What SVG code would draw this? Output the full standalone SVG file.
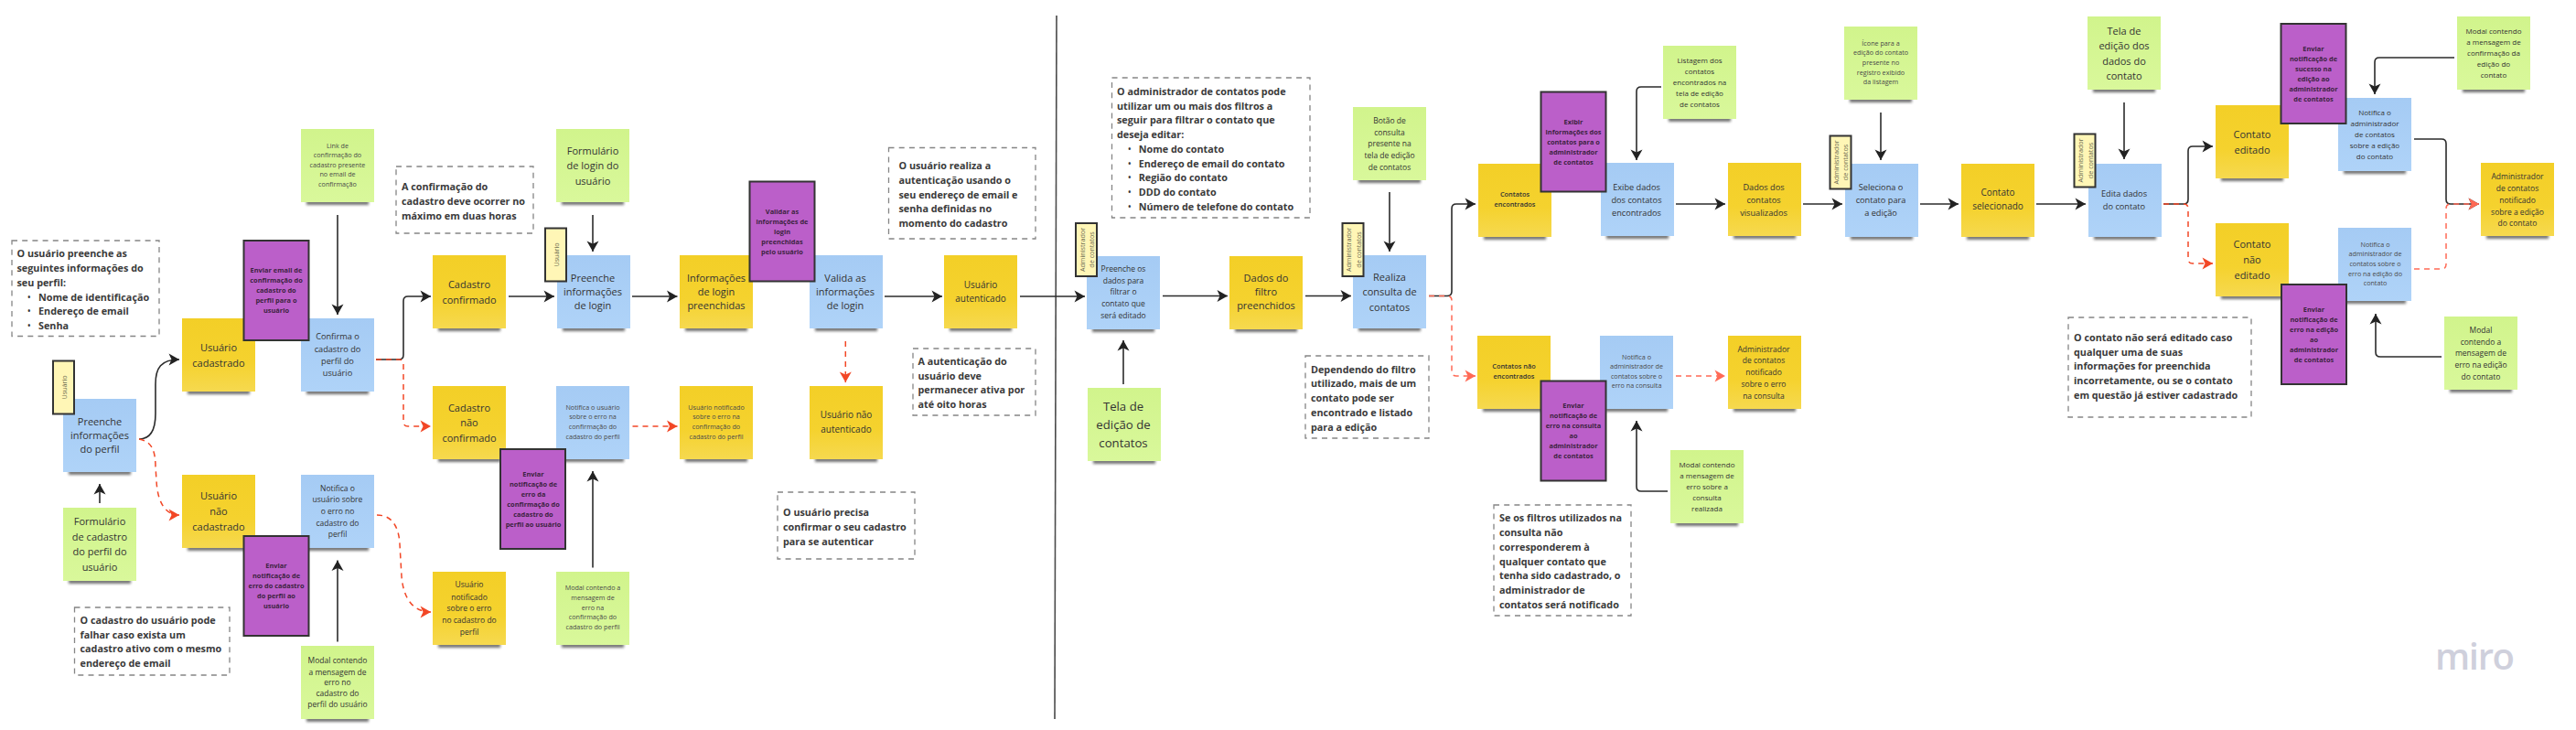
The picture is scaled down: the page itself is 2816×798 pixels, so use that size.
<svg xmlns="http://www.w3.org/2000/svg" width="2816" height="798" viewBox="0 0 2816 798">
<style>
text{font-family:"Open Sans","Noto Sans",sans-serif;dominant-baseline:central;fill:#333}
.c{text-anchor:middle}
.l{font-size:11px}.m10{font-size:10px}.m{font-size:9.2px}.s{font-size:8.5px}.sm{font-size:8px}.xs{font-size:7.2px;fill:#4a4a4a}.xl{font-size:13.2px}
.p{font-size:7.4px;font-weight:700;fill:#3b2340;text-anchor:middle}
.q{font-size:7.4px;font-weight:600;fill:#333;text-anchor:middle}
.n{font-size:10.8px;font-weight:700;fill:#3a3a3a}
.b{font-size:8px;font-weight:700}
.note{fill:none;stroke:#858585;stroke-width:1.3;stroke-dasharray:6 5.2}
.pur{fill:#bb5fc9;stroke:#333;stroke-width:2}
.lab{fill:#fff6b6;stroke:#333;stroke-width:2}
.lt{font-size:7.2px;fill:#6a6a50;text-anchor:middle}
.k{fill:none;stroke:#2b2b2b;stroke-width:1.6;marker-end:url(#ak)}
.r{fill:none;stroke:#f24726;stroke-width:1.5;stroke-dasharray:6 5;marker-end:url(#ar)}
.rs{fill:none;stroke:#ff6a55;stroke-width:1.5;stroke-dasharray:6 5;marker-end:url(#as)}
</style>
<defs>
<linearGradient id="gy" x1="0" y1="0" x2="0" y2="1"><stop offset="0" stop-color="#f3cf27"/><stop offset=".6" stop-color="#f5d22e"/><stop offset="1" stop-color="#f6d94f"/></linearGradient>
<linearGradient id="gb" x1="0" y1="0" x2="0" y2="1"><stop offset="0" stop-color="#a5cbf4"/><stop offset="1" stop-color="#afd3f8"/></linearGradient>
<linearGradient id="gg" x1="0" y1="0" x2="0" y2="1"><stop offset="0" stop-color="#d1f48c"/><stop offset="1" stop-color="#d9f89b"/></linearGradient>
<filter id="bl" x="-20%" y="-100%" width="140%" height="300%"><feGaussianBlur stdDeviation="1.6"/></filter>
<rect id="sh" x="6" y="78" width="68" height="5" fill="#444" opacity=".75" filter="url(#bl)"/>
<g id="sy"><use href="#sh"/><rect width="80" height="80" fill="url(#gy)"/></g>
<g id="sb"><use href="#sh"/><rect width="80" height="80" fill="url(#gb)"/></g>
<g id="sg"><use href="#sh"/><rect width="80" height="80" fill="url(#gg)"/></g>
<marker id="ak" markerUnits="userSpaceOnUse" viewBox="0 0 12 14" markerWidth="12" markerHeight="14" refX="12" refY="7" orient="auto"><path d="M0.5 0.5 L12 7 L0.5 13.5 L3.5 7Z" fill="#222"/></marker>
<marker id="ar" markerUnits="userSpaceOnUse" viewBox="0 0 12 14" markerWidth="12" markerHeight="14" refX="12" refY="7" orient="auto"><path d="M0.5 0.5 L12 7 L0.5 13.5 L3.5 7Z" fill="#f24726"/></marker>
<marker id="as" markerUnits="userSpaceOnUse" viewBox="0 0 12 14" markerWidth="12" markerHeight="14" refX="12" refY="7" orient="auto"><path d="M0.5 0.5 L12 7 L0.5 13.5 L3.5 7Z" fill="#ff6a55"/></marker>
</defs>
<rect width="2816" height="798" fill="#fff"/>

<g id="stickies">
<g id="preenche-perfil"><use href="#sb" x="69" y="436"/><text class="c l"><tspan x="109" y="460">Preenche</tspan><tspan x="109" y="475">informações</tspan><tspan x="109" y="490">do perfil</tspan></text></g>
<g id="form-cadastro"><use href="#sg" x="69" y="555"/><text class="c l"><tspan x="109" y="568.5">Formulário</tspan><tspan x="109" y="586">de cadastro</tspan><tspan x="109" y="602">do perfil do</tspan><tspan x="109" y="619">usuário</tspan></text></g>
<g id="usuario-cadastrado"><use href="#sy" x="199" y="348"/><text class="c l"><tspan x="239" y="379">Usuário</tspan><tspan x="239" y="396">cadastrado</tspan></text></g>
<g id="usuario-nao-cadastrado"><use href="#sy" x="199" y="519"/><text class="c l"><tspan x="239" y="541">Usuário</tspan><tspan x="239" y="558">não</tspan><tspan x="239" y="575">cadastrado</tspan></text></g>
<g id="confirma-cadastro"><use href="#sb" x="329" y="348"/><text class="c m"><tspan x="369" y="367">Confirma o</tspan><tspan x="369" y="381">cadastro do</tspan><tspan x="369" y="394">perfil do</tspan><tspan x="369" y="407">usuário</tspan></text></g>
<g id="notifica-cadastro"><use href="#sb" x="329" y="519"/><text class="c s"><tspan x="369" y="532.5">Notifica o</tspan><tspan x="369" y="545">usuário sobre</tspan><tspan x="369" y="558">o erro no</tspan><tspan x="369" y="571">cadastro do</tspan><tspan x="369" y="583">perfil</tspan></text></g>
<g id="modal-cadastro"><use href="#sg" x="329" y="706"/><text class="c s"><tspan x="369" y="721">Modal contendo</tspan><tspan x="369" y="733.5">a mensagem de</tspan><tspan x="369" y="745">erro no</tspan><tspan x="369" y="757">cadastro do</tspan><tspan x="369" y="769">perfil do usuário</tspan></text></g>
<g id="link-confirmacao"><use href="#sg" x="329" y="141"/><text class="c xs"><tspan x="369" y="159">Link de</tspan><tspan x="369" y="169">confirmação do</tspan><tspan x="369" y="180">cadastro presente</tspan><tspan x="369" y="190">no email de</tspan><tspan x="369" y="201">confirmação</tspan></text></g>
<g id="cadastro-confirmado"><use href="#sy" x="473" y="279"/><text class="c l"><tspan x="513" y="310">Cadastro</tspan><tspan x="513" y="327">confirmado</tspan></text></g>
<g id="cadastro-nao-confirmado"><use href="#sy" x="473" y="422"/><text class="c l"><tspan x="513" y="445">Cadastro</tspan><tspan x="513" y="461">não</tspan><tspan x="513" y="478">confirmado</tspan></text></g>
<g id="usuario-notificado-cadastro"><use href="#sy" x="473" y="625"/><text class="c s"><tspan x="513" y="638">Usuário</tspan><tspan x="513" y="652">notificado</tspan><tspan x="513" y="664">sobre o erro</tspan><tspan x="513" y="677">no cadastro do</tspan><tspan x="513" y="690">perfil</tspan></text></g>
<g id="form-login"><use href="#sg" x="608" y="141"/><text class="c l"><tspan x="648" y="164">Formulário</tspan><tspan x="648" y="180">de login do</tspan><tspan x="648" y="197">usuário</tspan></text></g>
<g id="preenche-login"><use href="#sb" x="609" y="279"/><text class="c l"><tspan x="648" y="303">Preenche</tspan><tspan x="648" y="318">informações</tspan><tspan x="648" y="333">de login</tspan></text></g>
<g id="notifica-confirmacao"><use href="#sb" x="608" y="422"/><text class="c xs"><tspan x="648" y="445">Notifica o usuário</tspan><tspan x="648" y="455">sobre o erro na</tspan><tspan x="648" y="466">confirmação do</tspan><tspan x="648" y="477">cadastro do perfil</tspan></text></g>
<g id="modal-confirmacao"><use href="#sg" x="608" y="625"/><text class="c xs"><tspan x="648" y="642">Modal contendo a</tspan><tspan x="648" y="653">mensagem de</tspan><tspan x="648" y="664">erro na</tspan><tspan x="648" y="674">confirmação do</tspan><tspan x="648" y="685">cadastro do perfil</tspan></text></g>
<g id="info-login"><use href="#sy" x="743" y="279"/><text class="c l"><tspan x="783" y="303">Informações</tspan><tspan x="783" y="318">de login</tspan><tspan x="783" y="333">preenchidas</tspan></text></g>
<g id="usuario-notificado-confirmacao"><use href="#sy" x="743" y="422"/><text class="c xs"><tspan x="783" y="445">Usuário notificado</tspan><tspan x="783" y="455">sobre o erro na</tspan><tspan x="783" y="466">confirmação do</tspan><tspan x="783" y="477">cadastro do perfil</tspan></text></g>
<g id="valida-login"><use href="#sb" x="885" y="279"/><text class="c l"><tspan x="924" y="303">Valida as</tspan><tspan x="924" y="318">informações</tspan><tspan x="924" y="333">de login</tspan></text></g>
<g id="usuario-nao-autenticado"><use href="#sy" x="885" y="422"/><text class="c m10"><tspan x="925" y="453">Usuário não</tspan><tspan x="925" y="469">autenticado</tspan></text></g>
<g id="usuario-autenticado"><use href="#sy" x="1032" y="279"/><text class="c m10"><tspan x="1072" y="311">Usuário</tspan><tspan x="1072" y="326">autenticado</tspan></text></g>
<g id="preenche-filtro"><use href="#sb" x="1188" y="280"/><text class="c s"><tspan x="1228" y="293">Preenche os</tspan><tspan x="1228" y="306">dados para</tspan><tspan x="1228" y="318">filtrar o</tspan><tspan x="1228" y="331">contato que</tspan><tspan x="1228" y="344">será editado</tspan></text></g>
<g id="tela-edicao-contatos"><use href="#sg" x="1189" y="424"/><text class="c xl"><tspan x="1228" y="444">Tela de</tspan><tspan x="1228" y="464">edição de</tspan><tspan x="1228" y="484">contatos</tspan></text></g>
<g id="dados-filtro"><use href="#sy" x="1344" y="280"/><text class="c l"><tspan x="1384" y="303">Dados do</tspan><tspan x="1384" y="318">filtro</tspan><tspan x="1384" y="333">preenchidos</tspan></text></g>
<g id="botao-consulta"><use href="#sg" x="1479" y="117"/><text class="c s"><tspan x="1519" y="131">Botão de</tspan><tspan x="1519" y="144">consulta</tspan><tspan x="1519" y="156">presente na</tspan><tspan x="1519" y="169">tela de edição</tspan><tspan x="1519" y="182">de contatos</tspan></text></g>
<g id="realiza-consulta"><use href="#sb" x="1479" y="279"/><text class="c l"><tspan x="1519" y="302">Realiza</tspan><tspan x="1519" y="318">consulta de</tspan><tspan x="1519" y="335">contatos</tspan></text></g>
<g id="contatos-encontrados"><use href="#sy" x="1616" y="179"/><text class="q"><tspan x="1656" y="212">Contatos</tspan><tspan x="1656" y="223">encontrados</tspan></text></g>
<g id="contatos-nao-encontrados"><use href="#sy" x="1615" y="367"/><text class="q"><tspan x="1655" y="400">Contatos não</tspan><tspan x="1655" y="411">encontrados</tspan></text></g>
<g id="exibe-dados"><use href="#sb" x="1750" y="178"/><text class="c m"><tspan x="1789" y="204">Exibe dados</tspan><tspan x="1789" y="218">dos contatos</tspan><tspan x="1789" y="232">encontrados</tspan></text></g>
<g id="notifica-consulta"><use href="#sb" x="1749" y="367"/><text class="c xs"><tspan x="1789" y="390">Notifica o</tspan><tspan x="1789" y="400">administrador de</tspan><tspan x="1789" y="411">contatos sobre o</tspan><tspan x="1789" y="421">erro na consulta</tspan></text></g>
<g id="listagem"><use href="#sg" x="1818" y="50"/><text class="c sm"><tspan x="1858" y="65">Listagem dos</tspan><tspan x="1858" y="77">contatos</tspan><tspan x="1858" y="89">encontrados na</tspan><tspan x="1858" y="101">tela de edição</tspan><tspan x="1858" y="113">de contatos</tspan></text></g>
<g id="modal-consulta"><use href="#sg" x="1826" y="492"/><text class="c sm"><tspan x="1866" y="507">Modal contendo</tspan><tspan x="1866" y="519">a mensagem de</tspan><tspan x="1866" y="531">erro sobre a</tspan><tspan x="1866" y="543">consulta</tspan><tspan x="1866" y="555">realizada</tspan></text></g>
<g id="dados-visualizados"><use href="#sy" x="1889" y="178"/><text class="c m"><tspan x="1928" y="204">Dados dos</tspan><tspan x="1928" y="218">contatos</tspan><tspan x="1928" y="232">visualizados</tspan></text></g>
<g id="admin-notificado-consulta"><use href="#sy" x="1889" y="367"/><text class="c s"><tspan x="1928" y="381">Administrador</tspan><tspan x="1928" y="393">de contatos</tspan><tspan x="1928" y="406">notificado</tspan><tspan x="1928" y="419">sobre o erro</tspan><tspan x="1928" y="432">na consulta</tspan></text></g>
<g id="icone-edicao"><use href="#sg" x="2016" y="29"/><text class="c xs"><tspan x="2056" y="47">Ícone para a</tspan><tspan x="2056" y="57">edição do contato</tspan><tspan x="2056" y="68">presente no</tspan><tspan x="2056" y="79">registro exibido</tspan><tspan x="2056" y="89">da listagem</tspan></text></g>
<g id="seleciona"><use href="#sb" x="2017" y="179"/><text class="c m"><tspan x="2056" y="204">Seleciona o</tspan><tspan x="2056" y="218">contato para</tspan><tspan x="2056" y="232">a edição</tspan></text></g>
<g id="contato-selecionado"><use href="#sy" x="2144" y="179"/><text class="c m10"><tspan x="2184" y="210">Contato</tspan><tspan x="2184" y="225">selecionado</tspan></text></g>
<g id="tela-dados"><use href="#sg" x="2282" y="18"/><text class="c l"><tspan x="2322" y="33">Tela de</tspan><tspan x="2322" y="49">edição dos</tspan><tspan x="2322" y="66">dados do</tspan><tspan x="2322" y="82">contato</tspan></text></g>
<g id="edita-dados"><use href="#sb" x="2283" y="179"/><text class="c m"><tspan x="2322" y="211">Edita dados</tspan><tspan x="2322" y="225">do contato</tspan></text></g>
<g id="contato-editado"><use href="#sy" x="2422" y="115"/><text class="c l"><tspan x="2462" y="146">Contato</tspan><tspan x="2462" y="163">editado</tspan></text></g>
<g id="contato-nao-editado"><use href="#sy" x="2422" y="244"/><text class="c l"><tspan x="2462" y="266">Contato</tspan><tspan x="2462" y="283">não</tspan><tspan x="2462" y="300">editado</tspan></text></g>
<g id="notifica-sucesso"><use href="#sb" x="2556" y="107"/><text class="c sm"><tspan x="2596" y="122">Notifica o</tspan><tspan x="2596" y="134">administrador</tspan><tspan x="2596" y="146">de contatos</tspan><tspan x="2596" y="158">sobre a edição</tspan><tspan x="2596" y="170">do contato</tspan></text></g>
<g id="notifica-erro-edicao"><use href="#sb" x="2556" y="249"/><text class="c xs"><tspan x="2596.5" y="267">Notifica o</tspan><tspan x="2596.5" y="277">administrador de</tspan><tspan x="2596.5" y="288">contatos sobre o</tspan><tspan x="2596.5" y="299">erro na edição do</tspan><tspan x="2596.5" y="309">contato</tspan></text></g>
<g id="modal-sucesso"><use href="#sg" x="2686" y="18"/><text class="c sm"><tspan x="2726" y="33">Modal contendo</tspan><tspan x="2726" y="45">a mensagem de</tspan><tspan x="2726" y="57">confirmação da</tspan><tspan x="2726" y="69">edição do</tspan><tspan x="2726" y="81">contato</tspan></text></g>
<g id="modal-erro-edicao"><use href="#sg" x="2672" y="346"/><text class="c s"><tspan x="2712" y="360">Modal</tspan><tspan x="2712" y="373">contendo a</tspan><tspan x="2712" y="385">mensagem de</tspan><tspan x="2712" y="398">erro na edição</tspan><tspan x="2712" y="411">do contato</tspan></text></g>
<g id="admin-notificado-edicao"><use href="#sy" x="2712" y="178"/><text class="c s"><tspan x="2752" y="192">Administrador</tspan><tspan x="2752" y="205">de contatos</tspan><tspan x="2752" y="218">notificado</tspan><tspan x="2752" y="231">sobre a edição</tspan><tspan x="2752" y="243">do contato</tspan></text></g>
</g>

<g id="actions">
<g id="acao-enviar-email"><rect class="pur" x="266.500" y="263" width="71" height="109"/><text class="p"><tspan x="302" y="295">Enviar email de</tspan><tspan x="302" y="306">confirmação do</tspan><tspan x="302" y="317">cadastro do</tspan><tspan x="302" y="328">perfil para o</tspan><tspan x="302" y="339">usuário</tspan></text></g>
<g id="acao-erro-cadastro"><rect class="pur" x="266.500" y="586" width="71" height="109"/><text class="p"><tspan x="302" y="618">Enviar</tspan><tspan x="302" y="629">notificação de</tspan><tspan x="302" y="640">erro do cadastro</tspan><tspan x="302" y="651">do perfil ao</tspan><tspan x="302" y="662">usuário</tspan></text></g>
<g id="acao-erro-confirmacao"><rect class="pur" x="547" y="491" width="71" height="109"/><text class="p"><tspan x="583" y="518">Enviar</tspan><tspan x="583" y="529">notificação de</tspan><tspan x="583" y="540">erro da</tspan><tspan x="583" y="551">confirmação do</tspan><tspan x="583" y="562">cadastro do</tspan><tspan x="583" y="573">perfil ao usuário</tspan></text></g>
<g id="acao-validar"><rect class="pur" x="819.500" y="198.500" width="71" height="109"/><text class="p"><tspan x="855" y="231">Validar as</tspan><tspan x="855" y="242">informações de</tspan><tspan x="855" y="253">login</tspan><tspan x="855" y="264">preenchidas</tspan><tspan x="855" y="275">pelo usuário</tspan></text></g>
<g id="acao-exibir"><rect class="pur" x="1684.500" y="100.500" width="71" height="109"/><text class="p"><tspan x="1720" y="133">Exibir</tspan><tspan x="1720" y="144">informações dos</tspan><tspan x="1720" y="155">contatos para o</tspan><tspan x="1720" y="166">administrador</tspan><tspan x="1720" y="177">de contatos</tspan></text></g>
<g id="acao-erro-consulta"><rect class="pur" x="1684.500" y="416.500" width="71" height="109"/><text class="p"><tspan x="1720" y="443">Enviar</tspan><tspan x="1720" y="454">notificação de</tspan><tspan x="1720" y="465">erro na consulta</tspan><tspan x="1720" y="476">ao</tspan><tspan x="1720" y="487">administrador</tspan><tspan x="1720" y="498">de contatos</tspan></text></g>
<g id="acao-sucesso-edicao"><rect class="pur" x="2493.500" y="26" width="71" height="109"/><text class="p"><tspan x="2529" y="53">Enviar</tspan><tspan x="2529" y="64">notificação de</tspan><tspan x="2529" y="75">sucesso na</tspan><tspan x="2529" y="86">edição ao</tspan><tspan x="2529" y="97">administrador</tspan><tspan x="2529" y="108">de contatos</tspan></text></g>
<g id="acao-erro-edicao"><rect class="pur" x="2494" y="311" width="71" height="109"/><text class="p"><tspan x="2529.500" y="338">Enviar</tspan><tspan x="2529.500" y="349">notificação de</tspan><tspan x="2529.500" y="360">erro na edição</tspan><tspan x="2529.500" y="371">ao</tspan><tspan x="2529.500" y="382">administrador</tspan><tspan x="2529.500" y="393">de contatos</tspan></text></g>
</g>

<g id="actors">
<g id="ator-usuario-1"><rect class="lab" x="58" y="394.500" width="23" height="58"/><text class="lt" transform="translate(69.500 423.500) rotate(-90)">Usuário</text></g>
<g id="ator-usuario-2"><rect class="lab" x="596" y="249.500" width="23" height="58"/><text class="lt" transform="translate(607.500 278.500) rotate(-90)">Usuário</text></g>
<g id="ator-admin-1"><rect class="lab" x="1176" y="244" width="23" height="58"/><text class="lt" transform="translate(1182.500 273) rotate(-90)">Administrador</text><text class="lt" transform="translate(1193 273) rotate(-90)">de contatos</text></g>
<g id="ator-admin-2"><rect class="lab" x="1467.500" y="244" width="23" height="58"/><text class="lt" transform="translate(1474 273) rotate(-90)">Administrador</text><text class="lt" transform="translate(1484.500 273) rotate(-90)">de contatos</text></g>
<g id="ator-admin-3"><rect class="lab" x="2000.500" y="148.500" width="23" height="58"/><text class="lt" transform="translate(2006.500 177.500) rotate(-90)">Administrador</text><text class="lt" transform="translate(2017 177.500) rotate(-90)">de contatos</text></g>
<g id="ator-admin-4"><rect class="lab" x="2267.500" y="146.500" width="23" height="58"/><text class="lt" transform="translate(2274 175.500) rotate(-90)">Administrador</text><text class="lt" transform="translate(2284.500 175.500) rotate(-90)">de contatos</text></g>
</g>

<g id="notes">
<g id="nota-perfil"><rect class="note" x="13" y="263" width="161" height="104.500"/><text class="n"><tspan x="18.500" y="276">O usuário preenche as</tspan><tspan x="18.500" y="292">seguintes informações do</tspan><tspan x="18.500" y="308">seu perfil:</tspan><tspan x="42" y="324">Nome de identificação</tspan><tspan x="42" y="339">Endereço de email</tspan><tspan x="42" y="355">Senha</tspan></text><text class="b c"><tspan x="31.700" y="324">•</tspan><tspan x="31.700" y="339">•</tspan><tspan x="31.700" y="355">•</tspan></text></g>
<g id="nota-cadastro-ativo"><rect class="note" x="81.500" y="664" width="169.500" height="74"/><text class="n"><tspan x="87.500" y="677">O cadastro do usuário pode</tspan><tspan x="87.500" y="693">falhar caso exista um</tspan><tspan x="87.500" y="708">cadastro ativo com o mesmo</tspan><tspan x="87.500" y="724">endereço de email</tspan></text></g>
<g id="nota-duas-horas"><rect class="note" x="433" y="182" width="150" height="73"/><text class="n"><tspan x="439" y="203">A confirmação do</tspan><tspan x="439" y="219">cadastro deve ocorrer no</tspan><tspan x="439" y="235">máximo em duas horas</tspan></text></g>
<g id="nota-autenticacao"><rect class="note" x="971.500" y="161.500" width="160.500" height="99.500"/><text class="n"><tspan x="982.500" y="180">O usuário realiza a</tspan><tspan x="982.500" y="196">autenticação usando o</tspan><tspan x="982.500" y="212">seu endereço de email e</tspan><tspan x="982.500" y="227">senha definidas no</tspan><tspan x="982.500" y="243">momento do cadastro</tspan></text></g>
<g id="nota-oito-horas"><rect class="note" x="998" y="381" width="134" height="73"/><text class="n"><tspan x="1003.500" y="394">A autenticação do</tspan><tspan x="1003.500" y="410">usuário deve</tspan><tspan x="1003.500" y="425">permanecer ativa por</tspan><tspan x="1003.500" y="441">até oito horas</tspan></text></g>
<g id="nota-confirmar"><rect class="note" x="850" y="538" width="150" height="73"/><text class="n"><tspan x="856" y="559">O usuário precisa</tspan><tspan x="856" y="575">confirmar o seu cadastro</tspan><tspan x="856" y="591">para se autenticar</tspan></text></g>
<g id="nota-filtros"><rect class="note" x="1215.500" y="85" width="216.500" height="153"/><text class="n"><tspan x="1221" y="99">O administrador de contatos pode</tspan><tspan x="1221" y="115">utilizar um ou mais dos filtros a</tspan><tspan x="1221" y="130">seguir para filtrar o contato que</tspan><tspan x="1221" y="146">deseja editar:</tspan><tspan x="1244.700" y="162">Nome do contato</tspan><tspan x="1244.700" y="178">Endereço de email do contato</tspan><tspan x="1244.700" y="193">Região do contato</tspan><tspan x="1244.700" y="209">DDD do contato</tspan><tspan x="1244.700" y="225">Número de telefone do contato</tspan></text><text class="b c"><tspan x="1234.700" y="162">•</tspan><tspan x="1234.700" y="178">•</tspan><tspan x="1234.700" y="193">•</tspan><tspan x="1234.700" y="209">•</tspan><tspan x="1234.700" y="225">•</tspan></text></g>
<g id="nota-dependendo"><rect class="note" x="1427" y="389" width="135" height="90"/><text class="n"><tspan x="1433" y="403">Dependendo do filtro</tspan><tspan x="1433" y="418">utilizado, mais de um</tspan><tspan x="1433" y="434">contato pode ser</tspan><tspan x="1433" y="450">encontrado e listado</tspan><tspan x="1433" y="466">para a edição</tspan></text></g>
<g id="nota-nao-corresponder"><rect class="note" x="1633" y="552" width="150" height="121"/><text class="n"><tspan x="1639" y="565">Se os filtros utilizados na</tspan><tspan x="1639" y="581">consulta não</tspan><tspan x="1639" y="597">corresponderem à</tspan><tspan x="1639" y="613">qualquer contato que</tspan><tspan x="1639" y="628">tenha sido cadastrado, o</tspan><tspan x="1639" y="644">administrador de</tspan><tspan x="1639" y="660">contatos será notificado</tspan></text></g>
<g id="nota-nao-editado"><rect class="note" x="2261" y="347" width="200" height="109"/><text class="n"><tspan x="2267" y="368">O contato não será editado caso</tspan><tspan x="2267" y="384">qualquer uma de suas</tspan><tspan x="2267" y="399">informações for preenchida</tspan><tspan x="2267" y="415">incorretamente, ou se o contato</tspan><tspan x="2267" y="431">em questão já estiver cadastrado</tspan></text></g>
</g>

<g id="connectors">
<line id="divisor" x1="1155" y1="17" x2="1153" y2="786" stroke="#4a4a4a" stroke-width="1.6"/>
<path class="k" d="M152 480C165 480 170 470 170 452L170 420C170 402 176 393 196 393"/>
<path class="k" d="M109 550V529"/>
<path class="k" d="M369 235V344"/>
<path class="k" d="M369 701.500V612.500"/>
<path class="k" d="M411 393H436Q441 393 441 388V329Q441 324 446 324H471"/>
<path class="k" d="M556 324H606"/>
<path class="k" d="M648 235V275"/>
<path class="k" d="M648 620.500V515"/>
<path class="k" d="M691 324H740.500"/>
<path class="k" d="M967 324H1030"/>
<path class="k" d="M1115 324H1186"/>
<path class="k" d="M1228 420V372"/>
<path class="k" d="M1271 323.500H1342"/>
<path class="k" d="M1427 323.500H1477"/>
<path class="k" d="M1519 210V275"/>
<path class="k" d="M1562 323.500H1582Q1587 323.500 1587 318.500V228Q1587 223 1592 223H1613"/>
<path class="k" d="M1816 95H1794Q1789 95 1789 100V175"/>
<path class="k" d="M1823 537H1794Q1789 537 1789 532V460"/>
<path class="k" d="M1832 223H1886"/>
<path class="k" d="M1971 223H2014"/>
<path class="k" d="M2056 123V175"/>
<path class="k" d="M2099 223H2141"/>
<path class="k" d="M2226 223H2280"/>
<path class="k" d="M2322 112V174"/>
<path class="k" d="M2365 223H2387Q2392 223 2392 218V165Q2392 160 2397 160H2419"/>
<path class="k" d="M2683 63H2601Q2596 63 2596 68V103"/>
<path class="k" d="M2639 152H2669Q2674 152 2674 157V218Q2674 223 2679 223H2710"/>
<path class="k" d="M2669 390H2602Q2597 390 2597 385V343"/>
<path class="r" d="M152 480C165 482 170 492 170 510L171 525C172 548 180 563 196 563"/>
<path class="r" d="M411 393H436Q441 393 441 398V461Q441 466 446 466H471"/>
<path class="r" d="M412 563C428 563 436 575 437 595L439 630C441 655 452 669 471 669"/>
<path class="r" d="M691.500 466H740.500"/>
<path class="r" d="M924.300 373V418"/>
<path class="rs" d="M1562 323.500H1582Q1587 323.500 1587 328.500V406Q1587 411 1592 411H1613"/>
<path class="rs" d="M1832 411H1886"/>
<path class="r" d="M2365 223H2387Q2392 223 2392 228V283Q2392 288 2397 288H2419"/>
<path class="rs" d="M2639 294H2669Q2674 294 2674 289V228Q2674 223 2679 223H2710"/>
</g>

<text id="miro" x="2662" y="732" font-size="40" font-weight="600" textLength="87" lengthAdjust="spacing" style="fill:#cfd0dc;dominant-baseline:alphabetic">miro</text>
</svg>
